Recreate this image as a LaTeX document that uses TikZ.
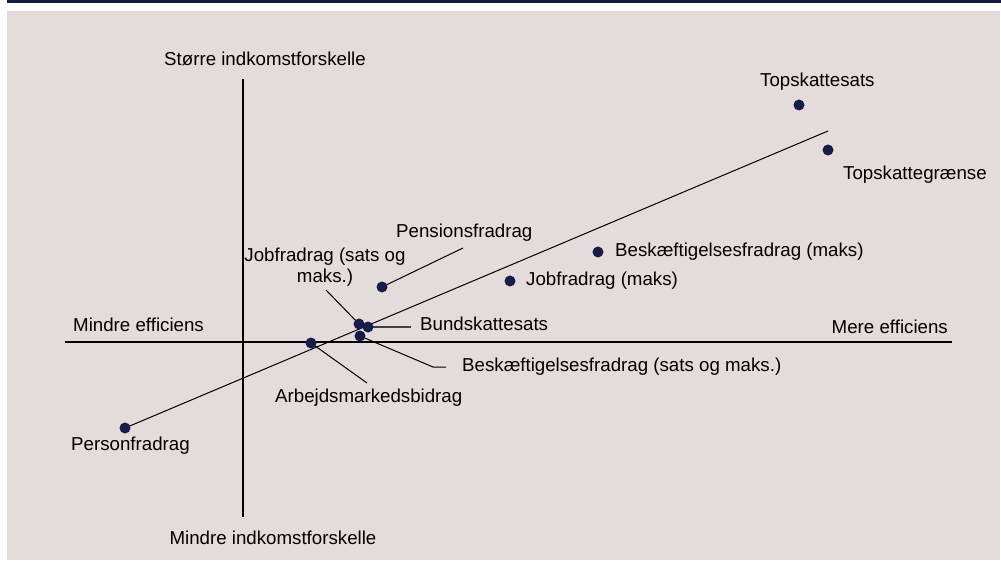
\documentclass[tikz,border=0pt]{standalone}
\usepackage{fontspec}
\setmainfont{Liberation Sans}
\usepackage{xcolor}
\usepackage{tikz}
\usetikzlibrary{backgrounds}

\definecolor{navy}{HTML}{141A40}
\definecolor{panel}{HTML}{E3DCDB}
\definecolor{dotblue}{HTML}{171C48}

\begin{document}
\begin{tikzpicture}[x=1pt,y=-1pt]
      \tikzstyle{dot}=[circle,fill=dotblue,draw=none,minimum size=11pt,inner sep=0pt]
      \tikzstyle{lbl}=[draw=none,inner sep=0pt,font=\fontsize{18.7}{21.5}\selectfont,text=black]
      \tikzstyle{lbl_w}=[lbl,anchor=mid west]
      \tikzstyle{axis_line}=[draw=black,line width=1.3pt]
      \tikzstyle{leader}=[draw=black,line width=1pt]

      \useasboundingbox (0,0) rectangle (1001,561);

      % points
      \node [dot] (d_topsats)   at (799,105) {};
      \node [dot] (d_topgraense) at (828,150) {};
      \node [dot] (d_beskmaks)  at (598,252) {};
      \node [dot] (d_jobmaks)   at (510,281) {};
      \node [dot] (d_pension)   at (382,287) {};
      \node [dot] (d_jobsats)   at (359,324) {};
      \node [dot] (d_bund)      at (368,327) {};
      \node [dot] (d_besksats)  at (360,336) {};
      \node [dot] (d_arbejds)   at (311,343) {};
      \node [dot] (d_person)    at (125,428) {};

      % axes and leader ends
      \coordinate (ax_top) at (243,79);
      \coordinate (ax_bottom) at (243,517);
      \coordinate (ax_left) at (65,342);
      \coordinate (ax_right) at (952,342);
      \coordinate (trend_end) at (828,131);
      \coordinate (pension_end) at (463,248);
      \coordinate (jobsats_end) at (326,290);
      \coordinate (bund_end) at (411,327);
      \coordinate (besksats_knee) at (433,367);
      \coordinate (besksats_end) at (446,367);
      \coordinate (arbejds_end) at (367,383);

      \begin{pgfonlayer}{background}
        \fill [navy] (7,0) rectangle (1001,3.4);
        \fill [panel] (7,11) rectangle (1000,560);
        \draw [axis_line] (ax_top) -- (ax_bottom);
        \draw [axis_line] (ax_left) -- (ax_right);
        \draw [leader] (d_person.center) -- (trend_end);
        \draw [leader] (d_pension.center) -- (pension_end);
        \draw [leader] (d_jobsats.center) -- (jobsats_end);
        \draw [leader,draw=black!75,line width=1.6pt] (d_bund.center) -- (bund_end);
        \draw [leader] (d_besksats.center) -- (besksats_knee) -- (besksats_end);
        \draw [leader] (d_arbejds.center) -- (arbejds_end);
      \end{pgfonlayer}

      % axis labels
      \node [lbl] (t_stoerre) at (265,59) {Større indkomstforskelle};
      \node [lbl] (t_mindreind) at (273,538) {Mindre indkomstforskelle};
      \node [lbl_w] (t_mindreeff) at (73,329) {Mindre efficiens};
      \node [lbl,anchor=mid east] (t_mereeff) at (948,331) {Mere efficiens};

      % point labels
      \node [lbl_w] (t_topsats) at (760,84) {Topskattesats};
      \node [lbl_w] (t_topgraense) at (843,177) {Topskattegrænse};
      \node [lbl_w] (t_beskmaks) at (615,254) {Beskæftigelsesfradrag (maks)};
      \node [lbl_w] (t_jobmaks) at (526,283) {Jobfradrag (maks)};
      \node [lbl_w] (t_pension) at (396,235) {Pensionsfradrag};
      \node [lbl,align=center] (t_jobsats) at (325,267) {Jobfradrag (sats og\\maks.)};
      \node [lbl_w] (t_bund) at (420,328) {Bundskattesats};
      \node [lbl_w] (t_besksats) at (462,369) {Beskæftigelsesfradrag (sats og maks.)};
      \node [lbl_w] (t_arbejds) at (275,400) {Arbejdsmarkedsbidrag};
      \node [lbl_w] (t_person) at (71,448) {Personfradrag};
    \end{tikzpicture}
\end{document}
